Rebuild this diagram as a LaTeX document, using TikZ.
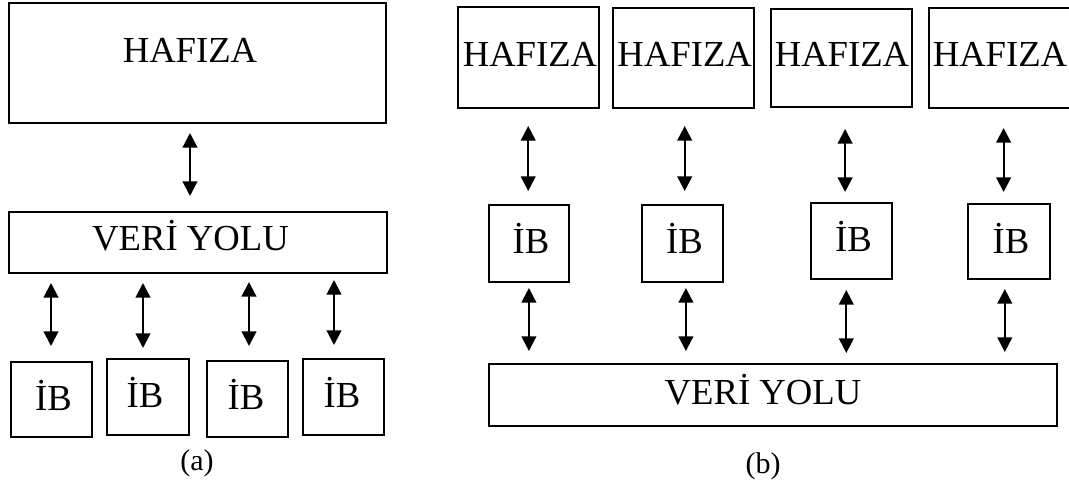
\documentclass[tikz,border=0pt]{standalone}
\usepackage{fontspec}
\setmainfont{Liberation Serif}
\usetikzlibrary{arrows.meta,calc}
\begin{document}
\begin{tikzpicture}[x=0.75pt,y=-0.75pt,
  box/.style={draw,rectangle,line width=1.5pt,inner sep=0pt},
  wh/.style 2 args={minimum width=#1*0.75pt,minimum height=#2*0.75pt},
  txt/.style={font=\fontsize{27.5pt}{30pt}\selectfont,inner sep=0pt,anchor=base},
  caption/.style={font=\fontsize{22.5pt}{26pt}\selectfont,inner sep=0pt},
  dbl/.style={line width=1.6pt,{Triangle[length=11pt,width=11pt]}-{Triangle[length=11pt,width=11pt]}}]
\useasboundingbox (0,0) rectangle (1069,491);
\clip (0,0) rectangle (1069,491);

% ---------- (a): shared memory on one bus ----------
\node[box,wh={377}{120}] (ha) at (197.5,63) {};
\node[txt] (tha) at (190,63) {HAFIZA};
\node[box,wh={378}{61}] (va) at (198,242.5) {};
\node[txt] (tva) at (190.5,251) {VERİ YOLU};

\node[box,wh={81}{75}] (ia1) at (51.5,399.5) {};
\node[box,wh={82}{76}] (ia2) at (148,397) {};
\node[box,wh={81}{76}] (ia3) at (247.5,399) {};
\node[box,wh={81}{76}] (ia4) at (343.5,397) {};
\node[txt] (tia1) at (53.5,410) {İB};
\node[txt] (tia2) at (145,407) {İB};
\node[txt] (tia3) at (246,409) {İB};
\node[txt] (tia4) at (342,407) {İB};

\draw[dbl] ($(ha.south)+(-7.5,9)$) -- ($(va.north -| ha.south)+(-7.5,-15)$);
\draw[dbl] ($(va.south -| ia1.north)+(-0.5,9)$) -- ($(ia1.north)+(-0.5,-15)$);
\draw[dbl] ($(va.south -| ia2.north)+(-5,9)$) -- ($(ia2.north)+(-5,-10)$);
\draw[dbl] ($(va.south -| ia3.north)+(1.5,8)$) -- ($(ia3.north)+(1.5,-14)$);
\draw[dbl] ($(va.south -| ia4.north)+(-9.5,6)$) -- ($(ia4.north)+(-9.5,-13)$);

\node[caption] (capa) at (197,463) {(a)};

% ---------- (b): a memory per processor ----------
\node[box,wh={141.6}{101}] (hb1) at (528.4,57.5) {};
\node[box,wh={140.8}{100}] (hb2) at (683.7,58) {};
\node[box,wh={140.8}{98}] (hb3) at (841.7,58) {};
\node[box,wh={141}{100}] (hb4) at (999.9,58) {};
\node[txt] (thb1) at (530,67) {HAFIZA};
\node[txt] (thb2) at (684.7,67) {HAFIZA};
\node[txt] (thb3) at (842,67) {HAFIZA};
\node[txt] (thb4) at (1000,67) {HAFIZA};

\node[box,wh={80.7}{77}] (ib1) at (528.9,243.5) {};
\node[box,wh={81}{77}] (ib2) at (682.3,243.5) {};
\node[box,wh={81}{76}] (ib3) at (851.5,241) {};
\node[box,wh={81.4}{75}] (ib4) at (1009,241.5) {};
\node[txt] (tib1) at (531,254) {İB};
\node[txt] (tib2) at (684.5,254) {İB};
\node[txt] (tib3) at (853.5,252) {İB};
\node[txt] (tib4) at (1011,253) {İB};

\node[box,wh={567.2}{62}] (vb) at (772.9,395) {};
\node[txt] (tvb) at (763,404) {VERİ YOLU};

\draw[dbl] ($(hb1.south -| ib1.north)+(-0.7,17)$) -- ($(ib1.north)+(-0.7,-13)$);
\draw[dbl] ($(hb2.south -| ib2.north)+(2.4,17)$) -- ($(ib2.north)+(2.4,-13)$);
\draw[dbl] ($(hb3.south -| ib3.north)+(-6.4,21)$) -- ($(ib3.north)+(-6.4,-10)$);
\draw[dbl] ($(hb4.south -| ib4.north)+(-5.4,19)$) -- ($(ib4.north)+(-5.4,-11)$);

\draw[dbl] ($(ib1.south)+(0,5)$) -- ($(vb.north -| ib1.south)+(0,-12)$);
\draw[dbl] ($(ib2.south)+(3.6,5)$) -- ($(vb.north -| ib2.south)+(3.6,-12)$);
\draw[dbl] ($(ib3.south)+(-5.2,10)$) -- ($(vb.north -| ib3.south)+(-5.2,-10)$);
\draw[dbl] ($(ib4.south)+(-4.2,9)$) -- ($(vb.north -| ib4.south)+(-4.2,-11)$);

\node[caption] (capb) at (763,466) {(b)};
\end{tikzpicture}
\end{document}
